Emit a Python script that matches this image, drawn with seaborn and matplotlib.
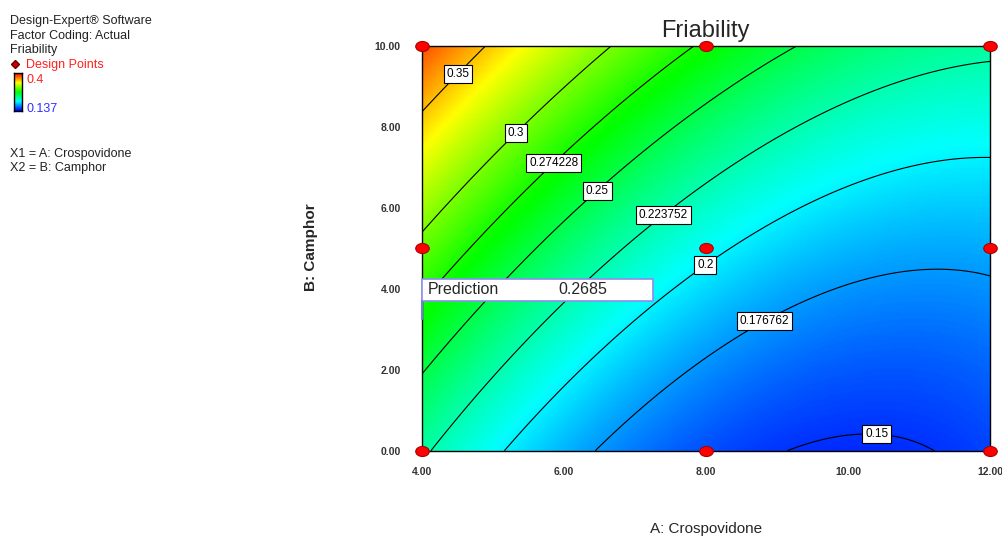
"""
Design-Expert style contour plot: Friability vs Crospovidone / Camphor.
"""

import numpy as np
import pandas as pd
import matplotlib
matplotlib.use("Agg")
import matplotlib.pyplot as plt
from matplotlib.colors import LinearSegmentedColormap
from matplotlib.patches import Rectangle
from matplotlib.path import Path
from matplotlib.transforms import Affine2D
import seaborn as sns

# ---- data -------------------------------------------------------------
A_RANGE = [4.0, 12.0]    # A: Crospovidone (actual)
B_RANGE = [0.0, 10.0]    # B: Camphor (actual)

# quadratic model in coded units, estimated from the contour positions
COEF_NAMES = ["Intercept", "A", "B", "AB", "A^2", "B^2"]
COEF_VALUES = [0.2046, -0.0562, 0.0567, -0.0200, 0.0332, 0.00975]

CONTOUR_LEVELS = [0.15, 0.176762, 0.2, 0.223752, 0.25, 0.274228, 0.3, 0.35]
LEVEL_LABELS = ["0.15", "0.176762", "0.2", "0.223752", "0.25", "0.274228", "0.3", "0.35"]

DESIGN_A = [4, 8, 12, 4, 8, 12, 4, 8, 12]
DESIGN_B = [0, 0, 0, 5, 5, 5, 10, 10, 10]

COLOR_MIN, COLOR_MAX = 0.137, 0.4
PREDICTION = "0.2685"

XTICKS = [4, 6, 8, 10, 12]
YTICKS = [0, 2, 4, 6, 8, 10]

SIDE_TEXT = ["Design-Expert® Software", "Factor Coding: Actual", "Friability"]
FACTOR_TEXT = ["X1 = A: Crospovidone", "X2 = B: Camphor"]

# ---- surface ----------------------------------------------------------
coef = dict(zip(COEF_NAMES, COEF_VALUES))
a = np.linspace(A_RANGE[0], A_RANGE[1], 241)
b = np.linspace(B_RANGE[0], B_RANGE[1], 241)
AA, BB = np.meshgrid(a, b)
x1 = (AA - 8.0) / 4.0
x2 = (BB - 5.0) / 5.0
Z = (coef["Intercept"] + coef["A"] * x1 + coef["B"] * x2 + coef["AB"] * x1 * x2
     + coef["A^2"] * x1 ** 2 + coef["B^2"] * x2 ** 2)

design = pd.DataFrame({"A": DESIGN_A, "B": DESIGN_B})

cmap = LinearSegmentedColormap.from_list(
    "de", ["#0000ff", "#00ffff", "#00ff00", "#ffff00", "#ff0000"])

# ---- figure -----------------------------------------------------------
sns.set_style("white")
plt.rcParams["font.family"] = ["Liberation Sans", "DejaVu Sans"]

fig = plt.figure(figsize=(10.02, 5.36), dpi=100)
ax = fig.add_axes([421.7 / 1002, 1 - 450.7 / 536, 568.3 / 1002, 405 / 536])

ax.pcolormesh(AA, BB, Z, cmap=cmap, vmin=COLOR_MIN, vmax=COLOR_MAX,
              shading="gouraud", zorder=1)
cs = ax.contour(AA, BB, Z, levels=CONTOUR_LEVELS, colors="black",
                linewidths=0.8, zorder=2)

label_pos = [(10.4, 0.3), (8.84, 3.14), (7.99, 4.59), (7.385, 5.85),
             (6.47, 6.42), (5.83, 7.16), (5.30, 7.90), (4.465, 9.38)]
fmt = dict(zip(CONTOUR_LEVELS, LEVEL_LABELS))
texts = ax.clabel(cs, fmt=fmt, inline=False, fontsize=8.5, colors="black",
                  manual=label_pos)
for t in texts:
    t.set_rotation(0)
    t.set_bbox(dict(facecolor="white", edgecolor="black", pad=2.0, linewidth=0.8))
    t.set_zorder(4)

ell = Path.unit_circle().transformed(Affine2D().scale(1.35, 1.0))
sns.scatterplot(data=design, x="A", y="B", ax=ax, marker=ell, s=95,
                color="#ff0000", edgecolor="#aa0000", linewidth=0.8,
                zorder=5, clip_on=False, legend=False)

# prediction flag
ax.add_patch(Rectangle((4.0, 3.70), 3.26, 0.55, facecolor="white",
                       edgecolor="#8c8cf0", linewidth=1.2, zorder=6, clip_on=False))
ax.plot([4.0, 4.0], [3.26, 3.70], color="#7a7af0", linewidth=1.5, zorder=6,
        clip_on=False)
ax.text(4.09, 3.975, "Prediction", fontsize=11.5, va="center", ha="left", zorder=7)
ax.text(5.92, 3.975, PREDICTION, fontsize=11.5, va="center", ha="left", zorder=7)

ax.set_xlim(A_RANGE)
ax.set_ylim(B_RANGE)
ax.set_xticks(XTICKS)
ax.set_yticks(YTICKS)
ax.set_xticklabels([f"{v:.2f}" for v in XTICKS])
ax.set_yticklabels([f"{v:.2f}" for v in YTICKS])
ax.tick_params(axis="x", direction="out", length=7, width=1.3, color="#707070",
               pad=5, labelsize=7.5, labelcolor="#333333")
ax.tick_params(axis="y", direction="out", length=9, width=1.3, color="#707070",
               pad=6, labelsize=7.5, labelcolor="#333333")
for lbl in ax.get_xticklabels() + ax.get_yticklabels():
    lbl.set_fontweight("bold")
for sp in ax.spines.values():
    sp.set_color("black")
    sp.set_linewidth(1.0)
ax.set_xlabel("")
ax.set_ylabel("")

ax.set_title("Friability", fontsize=17, pad=6)
fig.text(706 / 1002, 1 - 533 / 536, "A: Crospovidone", fontsize=11,
         ha="center", va="baseline")
fig.text(311 / 1002, 1 - 247 / 536, "B: Camphor", fontsize=11, fontweight="bold",
         rotation=90, ha="center", va="center")

# side legend
for i, s in enumerate(SIDE_TEXT):
    fig.text(10 / 1002, 1 - (24 + 14.7 * i) / 536, s, fontsize=9,
             color="#222222", va="baseline")
fig.text(26 / 1002, 1 - 68 / 536, "Design Points", fontsize=9, color="#ff2020",
         va="baseline")
fig.lines.append(plt.Line2D([15 / 1002], [1 - 63.5 / 536], marker="D",
                            markersize=4, color="#cc0000",
                            markeredgecolor="#660000", transform=fig.transFigure))
fig.text(26.5 / 1002, 1 - 83 / 536, "0.4", fontsize=9, color="#ff2020",
         va="baseline")
fig.text(26.5 / 1002, 1 - 112 / 536, "0.137", fontsize=9, color="#3030ff",
         va="baseline")
cax = fig.add_axes([14 / 1002, 1 - 111 / 536, 8 / 1002, 38 / 536])
cax.imshow(np.linspace(COLOR_MAX, COLOR_MIN, 100).reshape(-1, 1), aspect="auto",
           cmap=cmap, vmin=COLOR_MIN, vmax=COLOR_MAX)
cax.set_xticks([])
cax.set_yticks([])
for sp in cax.spines.values():
    sp.set_color("black")
    sp.set_linewidth(1.0)
for i, s in enumerate(FACTOR_TEXT):
    fig.text(10 / 1002, 1 - (157 + 14.5 * i) / 536, s, fontsize=9,
             color="#222222", va="baseline")

fig.savefig("out.png", dpi=100)
plt.close(fig)
